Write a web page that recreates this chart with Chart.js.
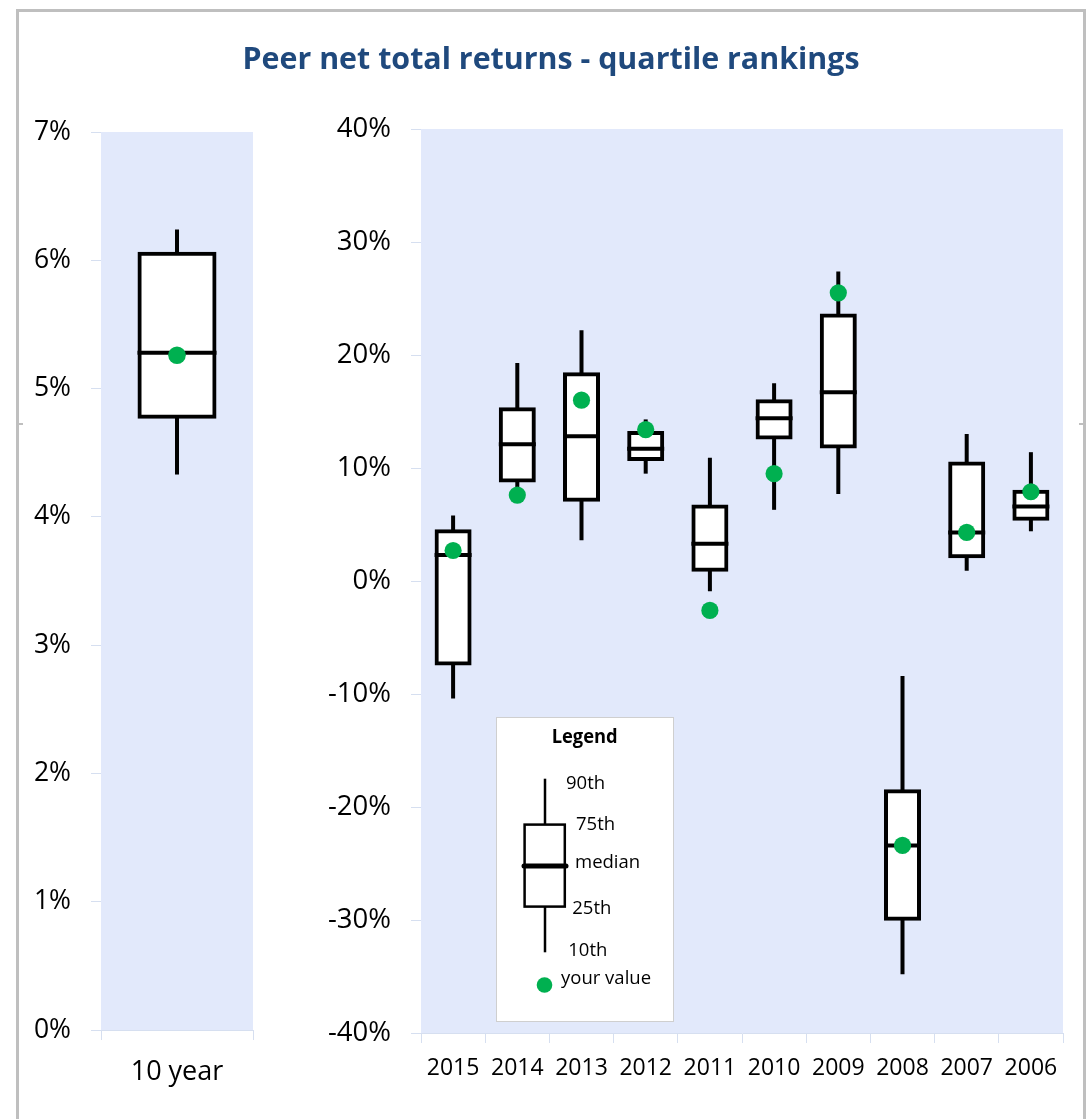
<!DOCTYPE html>
<html>
<head>
<meta charset="utf-8">
<script src="https://cdn.jsdelivr.net/npm/chart.js@4.4.1/dist/chart.umd.min.js"></script>
<style>
html,body{margin:0;padding:0;background:#fff;}
#wrap{position:relative;width:1087px;height:1119px;overflow:hidden;background:#fff;}
canvas{position:absolute;top:0;}
#c1{left:0;}
#c2{left:280px;}
svg{position:absolute;left:0;top:0;pointer-events:none;}
</style>
</head>
<body>
<div id="wrap">
<canvas id="c1" width="320" height="1119"></canvas>
<canvas id="c2" width="840" height="1119"></canvas>
<svg width="1087" height="1119" xmlns="http://www.w3.org/2000/svg">
  <rect x="17.5" y="10.5" width="1067" height="1200" fill="none" stroke="#BFBFBF" stroke-width="3"/>
  <line x1="19" x2="23" y1="424" y2="424" stroke="#BFBFBF" stroke-width="2"/>
  <line x1="1079" x2="1083" y1="424" y2="424" stroke="#BFBFBF" stroke-width="2"/>
  <text x="551" y="68.5" text-anchor="middle" textLength="617" lengthAdjust="spacingAndGlyphs"
        font-family="Open Sans" font-weight="bold" font-size="30" fill="#1F497D">Peer net total returns - quartile rankings</text>
  <g id="legendBox">
    <rect x="496.5" y="717.5" width="177" height="304" fill="#fff" stroke="#CFCFCF" stroke-width="1"/>
    <text x="584.7" y="743" text-anchor="middle" textLength="66" lengthAdjust="spacingAndGlyphs" font-family="Open Sans" font-weight="bold" font-size="19" fill="#000">Legend</text>
    <line x1="545" x2="545" y1="778.7" y2="952.3" stroke="#000" stroke-width="2.5"/>
    <rect x="524.6" y="824.6" width="40.2" height="82" fill="#fff" stroke="#000" stroke-width="2.5"/>
    <line x1="524" x2="566" y1="866" y2="866" stroke="#000" stroke-width="5" stroke-linecap="round"/>
    <g font-family="Open Sans" font-size="18.5" fill="#000">
      <text x="566" y="789">90th</text>
      <text x="576" y="830">75th</text>
      <text x="575" y="867.7">median</text>
      <text x="572.3" y="914">25th</text>
      <text x="568.3" y="956">10th</text>
      <text x="561" y="983.5">your value</text>
    </g>
    <circle cx="544.5" cy="985" r="7.8" fill="#00B050"/>
  </g>
</svg>
</div>
<script>
// ---- 10 year (left panel) ----
const tenYearLabels = ['10 year'];
const tenYearP10 = [4.33];
const tenYearP25 = [4.78];
const tenYearMedian = [5.28];
const tenYearP75 = [6.05];
const tenYearP90 = [6.24];
const tenYearValue = [5.26];

// ---- annual (right panel) ----
const years = ['2015','2014','2013','2012','2011','2010','2009','2008','2007','2006'];
const p10 = [-10.4, 7.5, 3.6, 9.5, -0.9, 6.3, 7.7, -34.8, 0.9, 4.4];
const p25 = [-7.3, 8.9, 7.2, 10.8, 1.0, 12.7, 11.9, -29.9, 2.2, 5.5];
const median = [2.3, 12.1, 12.8, 11.7, 3.3, 14.4, 16.7, -23.4, 4.3, 6.6];
const p75 = [4.4, 15.2, 18.3, 13.1, 6.6, 15.9, 23.5, -18.6, 10.4, 7.9];
const p90 = [5.8, 19.3, 22.2, 14.3, 10.9, 17.5, 27.4, -8.4, 13.0, 11.4];
const yourValue = [2.7, 7.6, 16.0, 13.4, -2.6, 9.5, 25.5, -23.4, 4.3, 7.9];

const leftTicks = {min: 0, max: 7, step: 1};
const rightTicks = {min: -40, max: 40, step: 10};

const plotBg = {
  id: 'plotBg',
  beforeDraw(chart) {
    const {ctx, chartArea: a} = chart;
    ctx.save();
    ctx.fillStyle = '#E2E9FB';
    ctx.fillRect(a.left, a.top, a.right - a.left, a.bottom - a.top);
    ctx.restore();
  }
};

function makeBoxChart(canvasId, o) {
  const tickColor = '#D6DFF0';
  return new Chart(document.getElementById(canvasId), {
    type: 'bar',
    data: {
      labels: o.labels,
      datasets: [
        {type: 'line', label: 'your value', data: o.value, showLine: false,
         pointStyle: 'circle', pointRadius: o.dot, pointBackgroundColor: '#00B050',
         pointBorderWidth: 0, order: 0},
        {type: 'line', label: 'median', data: o.median, showLine: false,
         pointStyle: 'line', pointRadius: o.boxW / 2 + 2, pointBorderColor: '#000',
         pointBorderWidth: 4, order: 1},
        {type: 'bar', label: 'box', data: o.p25.map((v, i) => [v, o.p75[i]]),
         backgroundColor: '#FFFFFF', borderColor: '#000', borderWidth: 4, borderSkipped: false,
         barThickness: o.boxW, inflateAmount: 2, grouped: false, order: 2},
        {type: 'bar', label: 'whisker', data: o.p10.map((v, i) => [v, o.p90[i]]),
         backgroundColor: '#000', borderWidth: 0, barThickness: 4, inflateAmount: 0,
         grouped: false, order: 3}
      ]
    },
    options: {
      responsive: false,
      animation: false,
      events: [],
      layout: {padding: {top: o.padTop, right: o.padRight, bottom: 0, left: 0}},
      plugins: {legend: {display: false}, tooltip: {enabled: false}, title: {display: false}},
      scales: {
        x: {
          afterFit: s => { s.height = o.xH; },
          grid: {offset: true, drawOnChartArea: false, drawTicks: true, tickLength: 10, color: tickColor},
          border: {display: true, color: tickColor},
          ticks: {color: '#000', font: {family: 'Open Sans', size: o.xFont}, padding: o.xPad,
                  maxRotation: 0, autoSkip: false}
        },
        y: {
          min: o.ticks.min, max: o.ticks.max,
          afterFit: s => { s.width = o.yW; },
          grid: {drawOnChartArea: false, drawTicks: true, tickLength: 10, color: tickColor},
          border: {display: false},
          ticks: {stepSize: o.ticks.step, color: '#000', font: {family: 'Open Sans', size: o.yFont},
                  padding: 20, callback: v => v + '%'}
        }
      }
    },
    plugins: [plotBg]
  });
}

makeBoxChart('c1', {
  labels: tenYearLabels, p10: tenYearP10, p25: tenYearP25, median: tenYearMedian,
  p75: tenYearP75, p90: tenYearP90, value: tenYearValue, ticks: leftTicks,
  boxW: 75, dot: 8.8, padTop: 132, padRight: 67, xH: 89, yW: 101,
  xFont: 27, yFont: 26.5, xPad: 16
});

makeBoxChart('c2', {
  labels: years, p10: p10, p25: p25, median: median,
  p75: p75, p90: p90, value: yourValue, ticks: rightTicks,
  boxW: 33, dot: 8.6, padTop: 129, padRight: 57, xH: 86, yW: 141,
  xFont: 23, yFont: 27.5, xPad: 12
});
</script>
</body>
</html>
